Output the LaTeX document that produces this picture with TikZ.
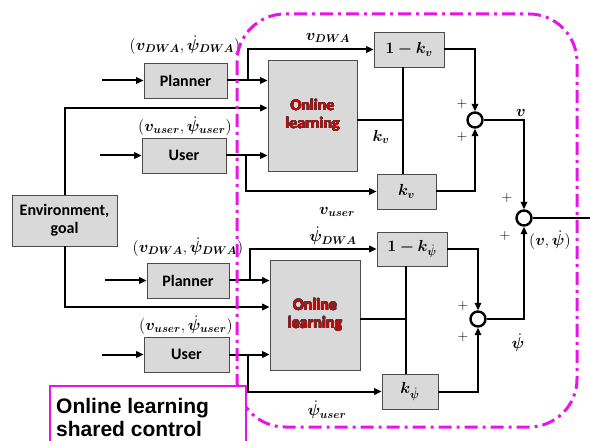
\RequirePackage{fix-cm}
\documentclass[tikz,border=0pt]{standalone}
\usepackage{amsmath,bm}
\usepackage[no-math]{fontspec}
\setmainfont{Carlito}
\newfontfamily\arialfont{Liberation Sans}
\usepackage{contour}
\contourlength{0.3pt}
\usetikzlibrary{arrows.meta}
\definecolor{boxgray}{RGB}{217,217,217}
\definecolor{framemag}{RGB}{230,20,230}
\definecolor{learnred}{RGB}{215,0,0}
\newcommand{\learntxt}[1]{\textcolor{learnred}{\contour{black!75}{#1}}}

\begin{document}
\begin{tikzpicture}[x=1pt,y=-1pt,
  blk/.style={draw=black!70,fill=boxgray,line width=.8pt,inner sep=0pt,
    font=\fontsize{16}{18}\selectfont\bfseries,align=center},
  sig/.style={line width=2pt},
  arr/.style={sig,-{Triangle[length=7.5pt,width=6.5pt]}},
  sumnode/.style={circle,draw,fill=white,line width=2.4pt,minimum size=15pt,inner sep=0pt},
  lab/.style={font=\fontsize{16}{18}\selectfont,inner sep=1pt},
  pm/.style={font=\fontsize{14}{16}\selectfont,inner sep=0pt},
  framedash/.style={draw=framemag,line width=3pt,
    dash pattern=on 13pt off 5pt on 3pt off 5pt,rounded corners=48pt},
  notebox/.style={draw=framemag,fill=white,line width=1.5pt,
    minimum width=196pt,minimum height=75pt,inner sep=0pt},
  notetext/.style={font=\arialfont\bfseries\fontsize{21}{23}\selectfont,inner sep=0pt}]
\useasboundingbox (0,0) rectangle (590,441);
% blocks
\node[blk,minimum width=105pt,minimum height=51pt] (env) at (64.5,220.5) {Environment,\\goal};
\node[blk,minimum width=83pt,minimum height=35pt] (planA) at (185.5,80.5) {Planner};
\node[blk,minimum width=84pt,minimum height=35pt] (userA) at (184,155.5) {User};
\node[blk,minimum width=82pt,minimum height=35pt] (planB) at (188,280.5) {Planner};
\node[blk,minimum width=85pt,minimum height=35pt] (userB) at (186.5,354.5) {User};
\node[blk,minimum width=89pt,minimum height=111pt] (learnA) at (312.5,115.5)
  {\learntxt{Online}\\\learntxt{learning}};
\node[blk,minimum width=90pt,minimum height=110pt] (learnB) at (315,315)
  {\learntxt{Online}\\\learntxt{learning}};
\node[blk,minimum width=70pt,minimum height=35pt] (mkv) at (409,49.5) {$\bm{1-k_v}$};
\node[blk,minimum width=59pt,minimum height=35pt] (kv) at (406.5,191.5) {$\bm{k_v}$};
\node[blk,minimum width=70pt,minimum height=34pt] (mkpsi) at (412,249) {$\bm{1-k}_{\dot{\bm{\psi}}}$};
\node[blk,minimum width=56pt,minimum height=35pt] (kpsi) at (410,391.5) {$\bm{k}_{\dot{\bm{\psi}}}$};
\node[sumnode] (sumA) at (475,120) {};
\node[sumnode] (sumB) at (478,319) {};
\node[sumnode] (sumO) at (524,218) {};
% free ends
\coordinate (inPA) at (102,80.5);
\coordinate (inUA) at (100,155.5);
\coordinate (inPB) at (105,280.5);
\coordinate (inUB) at (102,354.5);
\coordinate (brPA) at (248,80.5);
\coordinate (brUA) at (246,155.5);
\coordinate (brPB) at (250,280.5);
\coordinate (brUB) at (248,354.5);
\coordinate (envA) at (63,108);
\coordinate (envB) at (63,307);
\coordinate (gA) at (403,120);
\coordinate (gB) at (406,319);
\coordinate (outO) at (590,218);
% upper channel
\draw[arr] (inPA) -- (planA);
\draw[arr] (inUA) -- (userA);
\draw[arr] (planA) -- (planA -| learnA.west);
\draw[arr] (brPA) |- (mkv);
\draw[arr] (env.north) |- (learnA.west |- envA);
\draw[arr] (userA) -- (userA -| learnA.west);
\draw[arr] (brUA) |- (kv);
\draw[sig] (learnA.east |- gA) -- (gA);
\draw[sig] (mkv.south -| gA) -- (kv.north -| gA);
\draw[arr] (mkv) -| (sumA);
\draw[arr] (kv) -| (sumA);
\draw[arr] (sumA) -| (sumO);
% lower channel
\draw[arr] (inPB) -- (planB);
\draw[arr] (inUB) -- (userB);
\draw[arr] (planB) -- (planB -| learnB.west);
\draw[arr] (brPB) |- (mkpsi);
\draw[arr] (env.south) |- (learnB.west |- envB);
\draw[arr] (userB) -- (userB -| learnB.west);
\draw[arr] (brUB) |- (kpsi);
\draw[sig] (learnB.east |- gB) -- (gB);
\draw[sig] (mkpsi.south -| gB) -- (kpsi.north -| gB);
\draw[arr] (mkpsi) -| (sumB);
\draw[arr] (kpsi) -| (sumB);
\draw[arr] (sumB) -| (sumO);
\draw[sig] (sumO) -- (outO);
% labels
\node[lab] (lpA) at (185,45) {$(\bm{v}_{\bm{DWA}},\dot{\bm{\psi}}_{\bm{DWA}})$};
\node[lab] (luA) at (185,126) {$(\bm{v}_{\bm{user}},\dot{\bm{\psi}}_{\bm{user}})$};
\node[lab] (lpB) at (188,247) {$(\bm{v}_{\bm{DWA}},\dot{\bm{\psi}}_{\bm{DWA}})$};
\node[lab] (luB) at (186,325) {$(\bm{v}_{\bm{user}},\dot{\bm{\psi}}_{\bm{user}})$};
\node[lab] (lvd) at (328,38) {$\bm{v}_{\bm{DWA}}$};
\node[lab] (lkv) at (381,137) {$\bm{k_v}$};
\node[lab] (lvu) at (337,212) {$\bm{v}_{\bm{user}}$};
\node[lab] (lv) at (521,113) {$\bm{v}$};
\node[lab] (lpd) at (333,236) {$\dot{\bm{\psi}}_{\bm{DWA}}$};
\node[lab] (lpu) at (327,410) {$\dot{\bm{\psi}}_{\bm{user}}$};
\node[lab] (lp) at (518,343) {$\dot{\bm{\psi}}$};
\node[lab] (lvp) at (550,240) {$(\bm{v},\dot{\bm{\psi}})$};
\node[pm] (pA1) at (462,104) {$+$};
\node[pm] (pA2) at (462,137) {$+$};
\node[pm] (pB1) at (463,306) {$+$};
\node[pm] (pB2) at (463,337) {$+$};
\node[pm] (pO1) at (507,198) {$+$};
\node[pm] (pO2) at (505,236) {$+$};
% shared control frame
\draw[framedash] (237,14) rectangle (577,427);
\node[notebox,anchor=north west] (note) at (49,385) {};
\node[notetext,anchor=base west] (noteA) at (56,413) {Online learning};
\node[notetext,anchor=base west] (noteB) at (56,436) {shared control};
\end{tikzpicture}
\end{document}
